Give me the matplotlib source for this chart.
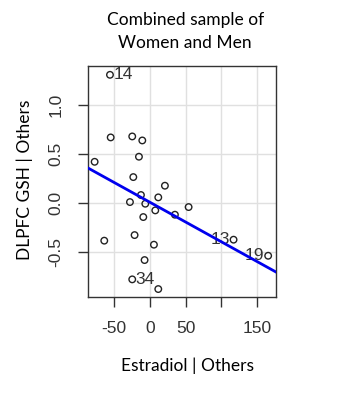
from matplotlib import pyplot as plt
import numpy as np

# residuals of the added-variable plot
estradiol = [-56, -55, -24.8, -10.7, -15.4, -77.5, -23.3, 21, -12.6, 11.7, -28, -6.5,
             54.2, 7.5, 35, -9.3, -21.5, -64, 5.6, 117.2, 165.7, -7.5, -24.8, 11.7]
gsh = [1.306, 0.667, 0.677, 0.636, 0.470, 0.418, 0.262, 0.174, 0.079, 0.055, 0.007, -0.010,
       -0.044, -0.078, -0.122, -0.146, -0.330, -0.387, -0.428, -0.377, -0.541, -0.585, -0.782, -0.881]
point_ids = ['14', '', '', '', '', '', '', '', '', '', '', '',
             '', '', '', '', '', '', '', '13', '19', '', '34', '']
slope = -0.00403
intercept = 0.005

xticks = [-50, 0, 50, 100, 150]
xticklabels = ['-50', '0', '50', '', '150']
yticks = [-0.5, 0.0, 0.5, 1.0]
yticklabels = ['-0.5', '0.0', '0.5', '1.0']

fig = plt.figure(figsize=(3.41, 4.0), dpi=100)
ax = fig.add_axes([0.257, 0.2575, 0.552, 0.578])

ax.set_xlim(-87.3, 176.5)
ax.set_ylim(-0.962, 1.398)
ax.set_xticks(xticks)
ax.set_xticklabels(xticklabels)
ax.set_yticks(yticks)
ax.set_yticklabels(yticklabels, rotation=90, va='center')
ax.grid(True, color='#e0e0e0', lw=1)
ax.set_axisbelow(True)

for s in ax.spines.values():
    s.set_color('#333333')
    s.set_linewidth(1.0)

ax.tick_params(direction='out', length=7.5, width=1, color='#333333', labelcolor='#333333',
               labelsize=12.5, pad=10)
for lab in ax.get_xticklabels() + ax.get_yticklabels():
    lab.set_family('Liberation Sans')

ax.scatter(estradiol, gsh, s=22, facecolors='none', edgecolors='#222222', linewidths=1.0, zorder=3)

xs = np.array(ax.get_xlim())
ax.plot(xs, intercept + slope * xs, color='#0000ee', lw=2, zorder=4)

for x, y, t in zip(estradiol, gsh, point_ids):
    if not t:
        continue
    if x > 60:
        ax.text(x - 5, y, t, ha='right', va='center', fontsize=12.5, color='#333333',
                family='Liberation Sans', zorder=2)
    else:
        ax.text(x + 5, y, t, ha='left', va='center', fontsize=12.5, color='#333333',
                family='Liberation Sans', zorder=2)

fig.text(0.543, 0.950, 'Combined sample of', ha='center', va='center', fontsize=12.5, family='Lato')
fig.text(0.543, 0.892, 'Women and Men', ha='center', va='center', fontsize=12.5, family='Lato')
fig.text(0.551, 0.085, 'Estradiol | Others', ha='center', va='center', fontsize=12.5, family='Lato')
fig.text(0.073, 0.55, 'DLPFC GSH | Others', ha='center', va='center', rotation=90,
         fontsize=12.5, family='Lato')

plt.savefig('out.png', dpi=100)
